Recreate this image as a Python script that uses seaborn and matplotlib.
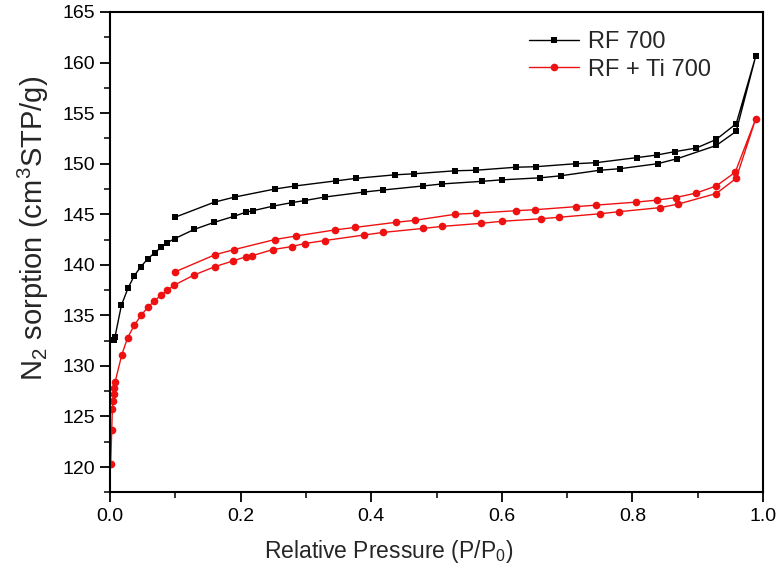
import matplotlib
matplotlib.use("Agg")
import matplotlib.pyplot as plt
import numpy as np
import pandas as pd
import seaborn as sns
from matplotlib.ticker import MultipleLocator

# RF 700: adsorption branch (low -> high P/P0), then desorption branch (high -> low)
rf_ads_p = [0.0065, 0.0077, 0.0174, 0.0276, 0.037, 0.047, 0.058, 0.0685, 0.0787,
            0.088, 0.0995, 0.129, 0.1595, 0.19, 0.208, 0.219, 0.2495, 0.2786, 0.298,
            0.3287, 0.3896, 0.4187, 0.48, 0.509, 0.569, 0.5997, 0.6585, 0.69, 0.75,
            0.7807, 0.839, 0.869, 0.9285, 0.959, 0.9888]
rf_ads_v = [132.6, 132.9, 136.0, 137.7, 138.9, 139.8, 140.6, 141.2, 141.75,
            142.2, 142.6, 143.5, 144.2, 144.8, 145.2, 145.35, 145.8, 146.15, 146.35,
            146.7, 147.2, 147.4, 147.8, 148.0, 148.25, 148.4, 148.6, 148.8, 149.35,
            149.5, 150.0, 150.5, 151.8, 153.2, 160.6]
rf_des_p = [0.959, 0.9285, 0.898, 0.866, 0.837, 0.807, 0.7445, 0.714, 0.6523,
            0.622, 0.560, 0.529, 0.466, 0.4366, 0.377, 0.346, 0.284, 0.253, 0.191,
            0.16, 0.0995]
rf_des_v = [153.95, 152.4, 151.55, 151.2, 150.85, 150.6, 150.1, 150.0, 149.7,
            149.65, 149.35, 149.3, 149.0, 148.9, 148.55, 148.3, 147.8, 147.5, 146.7,
            146.2, 144.7]

# RF + Ti 700
ti_ads_p = [0.001, 0.0026, 0.0035, 0.0046, 0.0057, 0.0066, 0.0077, 0.018, 0.027,
            0.037, 0.0475, 0.058, 0.0675, 0.078, 0.088, 0.0987, 0.129, 0.16, 0.189,
            0.2086, 0.218, 0.249, 0.278, 0.298, 0.329, 0.3896, 0.418, 0.48, 0.509,
            0.5685, 0.5997, 0.6595, 0.688, 0.751, 0.7796, 0.842, 0.87, 0.9285, 0.959,
            0.989]
ti_ads_v = [120.3, 123.7, 125.7, 126.5, 127.2, 127.8, 128.4, 131.1, 132.8,
            134.0, 135.0, 135.8, 136.4, 137.0, 137.5, 138.0, 139.0, 139.8, 140.4,
            140.8, 140.9, 141.5, 141.8, 142.1, 142.4, 142.95, 143.2, 143.6, 143.8,
            144.1, 144.3, 144.55, 144.7, 145.05, 145.25, 145.65, 146.0, 147.05, 148.55,
            154.45]
ti_des_p = [0.9575, 0.9285, 0.898, 0.8666, 0.838, 0.806, 0.7445, 0.714, 0.651,
            0.622, 0.5598, 0.529, 0.467, 0.4376, 0.3758, 0.3446, 0.285, 0.2526, 0.19,
            0.161, 0.0995]
ti_des_v = [149.15, 147.8, 147.1, 146.65, 146.4, 146.2, 145.9, 145.75, 145.45,
            145.35, 145.1, 145.0, 144.4, 144.2, 143.7, 143.45, 142.85, 142.5, 141.5,
            141.0, 139.3]

sns.set_style("ticks")
plt.rcParams["font.family"] = ["Liberation Sans", "DejaVu Sans"]
plt.rcParams["mathtext.fontset"] = "custom"
plt.rcParams["mathtext.rm"] = "Liberation Sans"
plt.rcParams["mathtext.it"] = "Liberation Sans"

fig = plt.figure(figsize=(7.76, 5.71), dpi=100)
ax = fig.add_axes([0.1418, 0.1378, 0.8414, 0.8412])

series = [
    ("RF 700", rf_ads_p + rf_des_p, rf_ads_v + rf_des_v, "black", "s", 5.0),
    ("RF + Ti 700", ti_ads_p + ti_des_p, ti_ads_v + ti_des_v, "#ee1111", "o", 5.5),
]
for label, p, v, color, marker, ms in series:
    d = pd.DataFrame({"p": p, "v": v})
    sns.lineplot(data=d, x="p", y="v", sort=False, estimator=None, ax=ax,
                 color=color, marker=marker, markersize=ms, markeredgewidth=0,
                 linewidth=1.0, label=label)

ax.set_xlim(0, 1.0)
ax.set_ylim(117.5, 165)
ax.xaxis.set_major_locator(MultipleLocator(0.2))
ax.xaxis.set_minor_locator(MultipleLocator(0.1))
ax.yaxis.set_major_locator(MultipleLocator(5))
ax.yaxis.set_minor_locator(MultipleLocator(2.5))
ax.xaxis.set_major_formatter(matplotlib.ticker.FormatStrFormatter("%.1f"))
ax.tick_params(which="major", direction="out", length=7, width=1.3,
               labelsize=14, colors="black", pad=4)
ax.tick_params(which="minor", direction="out", length=4, width=1.3)
for s in ax.spines.values():
    s.set_linewidth(1.5)
    s.set_color("black")

ax.set_xlabel("Relative Pressure (P/P$_0$)", fontsize=16.5)
ax.set_ylabel("N$_2$ sorption (cm$^3$STP/g)", fontsize=21)
ax.xaxis.set_label_coords(0.426, -0.095)
ax.yaxis.set_label_coords(-0.09, 0.55)

ax.legend(loc="upper left", bbox_to_anchor=(0.609, 1.005), frameon=False,
          fontsize=17, handlelength=2.1, handletextpad=0.4, labelspacing=0.25)

fig.savefig("out.png", dpi=100)
